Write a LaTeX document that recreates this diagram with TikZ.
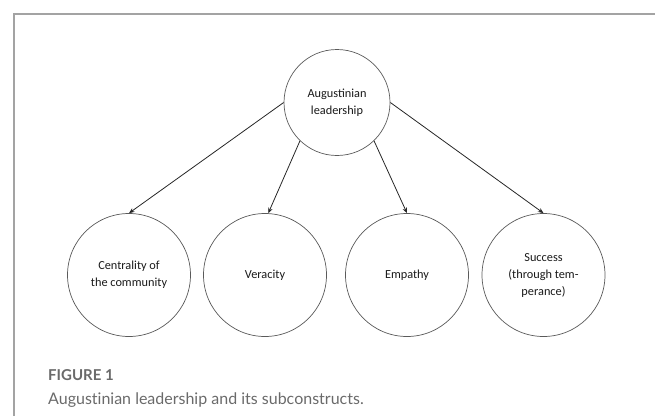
\documentclass[tikz,border=0pt]{standalone}
\usepackage{fontspec}
\setmainfont{Carlito}
\newfontfamily\capfont[Ligatures=NoCommon]{Lato}
\usetikzlibrary{arrows.meta}
\definecolor{framegray}{HTML}{A3A3A3}
\definecolor{ringgray}{HTML}{5A5A5A}
\definecolor{captiongray}{HTML}{6A6A6A}
\tikzset{
  ring/.style={circle, draw=ringgray, line width=0.7pt, inner sep=0pt,
    align=center, font=\fontsize{12.3}{17}\selectfont, text=black!90},
  link/.style={line width=0.8pt, black!85,
    -{Stealth[length=5.5pt,width=4.5pt]}},
}
\begin{document}
\begin{tikzpicture}[x=1pt,y=-1pt]
  \useasboundingbox (0,0) rectangle (655,416);
  % panel frame, top and left edges only
  \draw[framegray, line width=1.3pt] (14,416) -- (14,14) -- (655,14);

  % parent construct
  \node[ring, minimum size=106pt] (lead) at (337,102.5) {Augustinian\\leadership};

  % subconstructs
  \node[ring, minimum size=123pt] (comm) at (129,275) {Centrality of\\the community};
  \node[ring, minimum size=123pt] (ver)  at (265,275) {Veracity};
  \node[ring, minimum size=123pt] (emp)  at (407,275) {Empathy};
  \node[ring, minimum size=123pt] (succ) at (543.5,275) {Success\\(through tem-\\perance)};

  % links from the parent to each subconstruct
  \draw[link] (lead.west) -- (comm.north);
  \draw[link] (lead.226) -- (ver.87);
  \draw[link] (lead.314) -- (emp.north);
  \draw[link] (lead.east) -- (succ.north);

  % caption
  \node[anchor=base west, inner sep=0pt, text=captiongray,
        font=\capfont\bfseries\fontsize{15}{18}\selectfont] (fig) at (48,380) {FIGURE 1};
  \node[anchor=base west, inner sep=0pt, text=captiongray,
        font=\capfont\fontsize{16}{20}\selectfont] (cap) at (48,404) {Augustinian leadership and its subconstructs.};
\end{tikzpicture}
\end{document}
